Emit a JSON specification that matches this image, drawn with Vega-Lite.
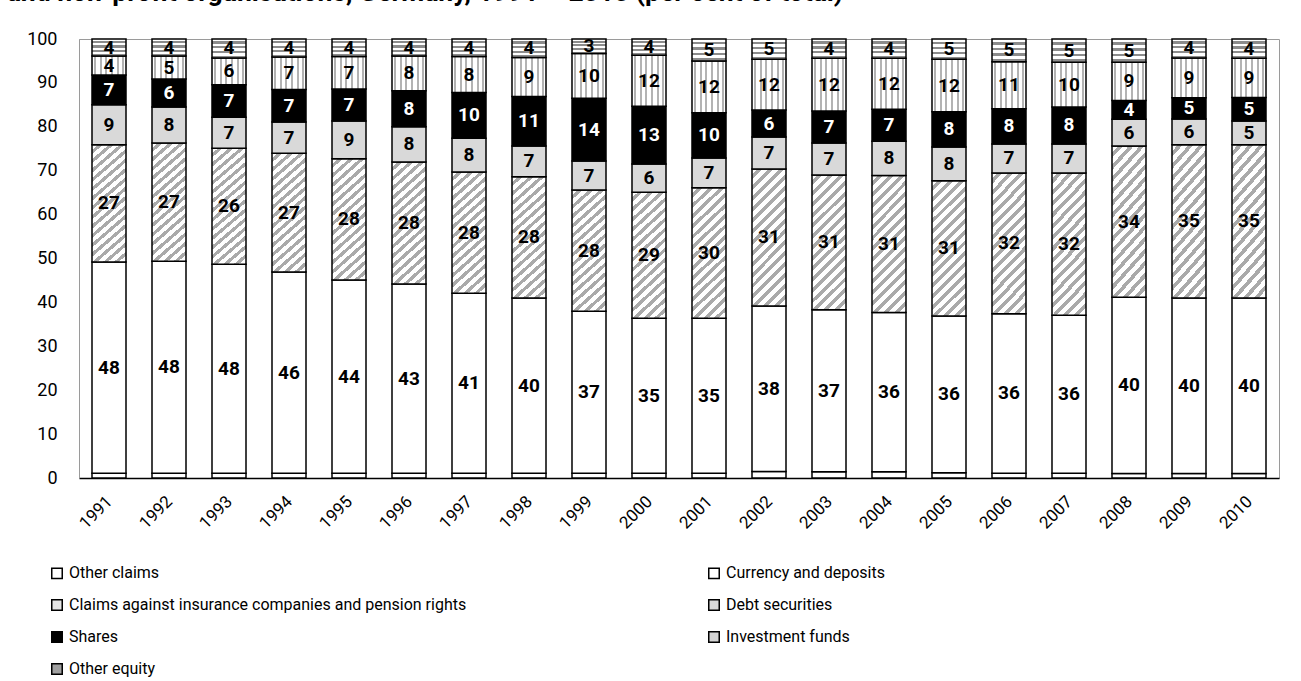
{
  "$schema": "https://vega.github.io/schema/vega-lite/v6.json",
  "width": 1200,
  "height": 439,
  "autosize": "none",
  "padding": {"left": 79, "top": 39, "right": 22, "bottom": 203},
  "background": "white",
  "title": {"text": "and non-profit organisations, Germany, 1991 – 2010 (per cent of total)", "anchor": "start", "dx": -20, "offset": 24, "fontSize": 26.5, "font": "Roboto", "fontWeight": "bold", "color": "black"},
  "data": {"values": [
    {"year": "1991", "Other claims": 1.1, "Currency and deposits": 48.1, "Claims against insurance companies and pension rights": 26.7, "Debt securities": 9.1, "Shares": 6.8, "Investment funds": 4.3, "Other equity": 3.9},
    {"year": "1992", "Other claims": 1.1, "Currency and deposits": 48.3, "Claims against insurance companies and pension rights": 26.9, "Debt securities": 8.2, "Shares": 6.4, "Investment funds": 5.2, "Other equity": 3.9},
    {"year": "1993", "Other claims": 1.1, "Currency and deposits": 47.6, "Claims against insurance companies and pension rights": 26.4, "Debt securities": 7.1, "Shares": 7.4, "Investment funds": 6.1, "Other equity": 4.3},
    {"year": "1994", "Other claims": 1.1, "Currency and deposits": 45.8, "Claims against insurance companies and pension rights": 27.1, "Debt securities": 7.1, "Shares": 7.4, "Investment funds": 7.4, "Other equity": 4.1},
    {"year": "1995", "Other claims": 1.1, "Currency and deposits": 44.0, "Claims against insurance companies and pension rights": 27.6, "Debt securities": 8.6, "Shares": 7.3, "Investment funds": 7.4, "Other equity": 4.0},
    {"year": "1996", "Other claims": 1.1, "Currency and deposits": 43.1, "Claims against insurance companies and pension rights": 27.8, "Debt securities": 8.0, "Shares": 8.2, "Investment funds": 7.9, "Other equity": 3.9},
    {"year": "1997", "Other claims": 1.1, "Currency and deposits": 41.0, "Claims against insurance companies and pension rights": 27.6, "Debt securities": 7.7, "Shares": 10.4, "Investment funds": 8.2, "Other equity": 4.0},
    {"year": "1998", "Other claims": 1.1, "Currency and deposits": 39.9, "Claims against insurance companies and pension rights": 27.6, "Debt securities": 7.0, "Shares": 11.3, "Investment funds": 8.9, "Other equity": 4.2},
    {"year": "1999", "Other claims": 1.1, "Currency and deposits": 36.9, "Claims against insurance companies and pension rights": 27.6, "Debt securities": 6.6, "Shares": 14.3, "Investment funds": 10.2, "Other equity": 3.3},
    {"year": "2000", "Other claims": 1.1, "Currency and deposits": 35.3, "Claims against insurance companies and pension rights": 28.7, "Debt securities": 6.4, "Shares": 13.2, "Investment funds": 11.6, "Other equity": 3.7},
    {"year": "2001", "Other claims": 1.1, "Currency and deposits": 35.3, "Claims against insurance companies and pension rights": 29.7, "Debt securities": 6.8, "Shares": 10.3, "Investment funds": 11.8, "Other equity": 5.0},
    {"year": "2002", "Other claims": 1.5, "Currency and deposits": 37.7, "Claims against insurance companies and pension rights": 31.2, "Debt securities": 7.3, "Shares": 6.1, "Investment funds": 11.6, "Other equity": 4.6},
    {"year": "2003", "Other claims": 1.4, "Currency and deposits": 36.9, "Claims against insurance companies and pension rights": 30.7, "Debt securities": 7.3, "Shares": 7.3, "Investment funds": 12.0, "Other equity": 4.4},
    {"year": "2004", "Other claims": 1.4, "Currency and deposits": 36.3, "Claims against insurance companies and pension rights": 31.2, "Debt securities": 7.8, "Shares": 7.3, "Investment funds": 11.6, "Other equity": 4.4},
    {"year": "2005", "Other claims": 1.2, "Currency and deposits": 35.7, "Claims against insurance companies and pension rights": 30.8, "Debt securities": 7.7, "Shares": 8.0, "Investment funds": 12.0, "Other equity": 4.6},
    {"year": "2006", "Other claims": 1.1, "Currency and deposits": 36.3, "Claims against insurance companies and pension rights": 32.1, "Debt securities": 6.6, "Shares": 8.0, "Investment funds": 10.7, "Other equity": 5.2},
    {"year": "2007", "Other claims": 1.1, "Currency and deposits": 36.0, "Claims against insurance companies and pension rights": 32.4, "Debt securities": 6.6, "Shares": 8.4, "Investment funds": 10.2, "Other equity": 5.3},
    {"year": "2008", "Other claims": 1.0, "Currency and deposits": 40.2, "Claims against insurance companies and pension rights": 34.4, "Debt securities": 6.1, "Shares": 4.3, "Investment funds": 8.7, "Other equity": 5.3},
    {"year": "2009", "Other claims": 1.0, "Currency and deposits": 40.0, "Claims against insurance companies and pension rights": 34.9, "Debt securities": 5.9, "Shares": 4.8, "Investment funds": 9.1, "Other equity": 4.3},
    {"year": "2010", "Other claims": 1.0, "Currency and deposits": 40.0, "Claims against insurance companies and pension rights": 34.9, "Debt securities": 5.4, "Shares": 5.4, "Investment funds": 8.9, "Other equity": 4.4}
  ]},
  "transform": [
    {"fold": ["Other claims", "Currency and deposits", "Claims against insurance companies and pension rights", "Debt securities", "Shares", "Investment funds", "Other equity"], "as": ["c", "v"]},
    {"calculate": "indexof(['Other claims', 'Currency and deposits', 'Claims against insurance companies and pension rights', 'Debt securities', 'Shares', 'Investment funds', 'Other equity'], datum.c)", "as": "k"},
    {"stack": "v", "groupby": ["year"], "sort": [{"field": "k", "order": "ascending"}], "as": ["v0", "v1"]},
    {"calculate": "(datum.v0 + datum.v1) / 2", "as": "vm"}
  ],
  "encoding": {
    "x": {"field": "year", "type": "ordinal", "scale": {"paddingInner": 0.4333, "paddingOuter": 0.2167},
      "axis": {"title": null, "labelAngle": -45, "labelFontSize": 17, "labelFont": "Roboto", "labelColor": "black", "ticks": false, "domainColor": "black", "domainWidth": 1.5, "labelPadding": 15, "labelOffset": -5}}
  },
  "layer": [
    {
      "mark": {"type": "bar", "stroke": "black", "strokeWidth": 1.5},
      "encoding": {
        "y": {"field": "v0", "type": "quantitative", "scale": {"domain": [0, 100]},
          "axis": {"title": null, "values": [0, 10, 20, 30, 40, 50, 60, 70, 80, 90, 100], "ticks": false, "grid": false, "labelPadding": 22, "labelFontSize": 18, "labelFont": "Roboto", "labelColor": "black", "domainColor": "#9a9a9a"}},
        "y2": {"field": "v1"},
        "fill": {
          "field": "c", "type": "nominal",
          "scale": {"domain": ["Other claims", "Currency and deposits", "Claims against insurance companies and pension rights", "Debt securities", "Shares", "Investment funds", "Other equity"],
                    "range": ["#ffffff", "#ffffff", "#e6e6e6", "#d9d9d9", "#000000", "#d4d4d4", "#a0a0a0"]},
          "legend": {"orient": "none", "legendX": -30, "legendY": 526, "direction": "horizontal", "columns": 2, "title": null, "symbolType": "square", "symbolSize": 110, "symbolStrokeColor": "black", "symbolStrokeWidth": 1.5, "labelFontSize": 16, "labelFont": "Roboto", "labelColor": "black", "labelLimit": 700, "columnPadding": 238, "rowPadding": 14, "labelOffset": 4},
          "condition": [
            {"test": "datum.c === 'Claims against insurance companies and pension rights'", "value": {"gradient": "linear", "x1": 0, "y1": 0, "x2": 0.3, "y2": 1.2, "stops": [
              {"offset": 0, "color": "#ffffff"}, {"offset": 0.034, "color": "#ffffff"}, {"offset": 0.034, "color": "#aaaaaa"}, {"offset": 0.0625, "color": "#aaaaaa"},
              {"offset": 0.0625, "color": "#ffffff"}, {"offset": 0.0965, "color": "#ffffff"}, {"offset": 0.0965, "color": "#aaaaaa"}, {"offset": 0.125, "color": "#aaaaaa"},
              {"offset": 0.125, "color": "#ffffff"}, {"offset": 0.159, "color": "#ffffff"}, {"offset": 0.159, "color": "#aaaaaa"}, {"offset": 0.1875, "color": "#aaaaaa"},
              {"offset": 0.1875, "color": "#ffffff"}, {"offset": 0.2215, "color": "#ffffff"}, {"offset": 0.2215, "color": "#aaaaaa"}, {"offset": 0.25, "color": "#aaaaaa"},
              {"offset": 0.25, "color": "#ffffff"}, {"offset": 0.284, "color": "#ffffff"}, {"offset": 0.284, "color": "#aaaaaa"}, {"offset": 0.3125, "color": "#aaaaaa"},
              {"offset": 0.3125, "color": "#ffffff"}, {"offset": 0.3465, "color": "#ffffff"}, {"offset": 0.3465, "color": "#aaaaaa"}, {"offset": 0.375, "color": "#aaaaaa"},
              {"offset": 0.375, "color": "#ffffff"}, {"offset": 0.409, "color": "#ffffff"}, {"offset": 0.409, "color": "#aaaaaa"}, {"offset": 0.4375, "color": "#aaaaaa"},
              {"offset": 0.4375, "color": "#ffffff"}, {"offset": 0.4715, "color": "#ffffff"}, {"offset": 0.4715, "color": "#aaaaaa"}, {"offset": 0.5, "color": "#aaaaaa"},
              {"offset": 0.5, "color": "#ffffff"}, {"offset": 0.534, "color": "#ffffff"}, {"offset": 0.534, "color": "#aaaaaa"}, {"offset": 0.5625, "color": "#aaaaaa"},
              {"offset": 0.5625, "color": "#ffffff"}, {"offset": 0.5965, "color": "#ffffff"}, {"offset": 0.5965, "color": "#aaaaaa"}, {"offset": 0.625, "color": "#aaaaaa"},
              {"offset": 0.625, "color": "#ffffff"}, {"offset": 0.659, "color": "#ffffff"}, {"offset": 0.659, "color": "#aaaaaa"}, {"offset": 0.6875, "color": "#aaaaaa"},
              {"offset": 0.6875, "color": "#ffffff"}, {"offset": 0.7215, "color": "#ffffff"}, {"offset": 0.7215, "color": "#aaaaaa"}, {"offset": 0.75, "color": "#aaaaaa"},
              {"offset": 0.75, "color": "#ffffff"}, {"offset": 0.784, "color": "#ffffff"}, {"offset": 0.784, "color": "#aaaaaa"}, {"offset": 0.8125, "color": "#aaaaaa"},
              {"offset": 0.8125, "color": "#ffffff"}, {"offset": 0.8465, "color": "#ffffff"}, {"offset": 0.8465, "color": "#aaaaaa"}, {"offset": 0.875, "color": "#aaaaaa"},
              {"offset": 0.875, "color": "#ffffff"}, {"offset": 0.909, "color": "#ffffff"}, {"offset": 0.909, "color": "#aaaaaa"}, {"offset": 0.9375, "color": "#aaaaaa"},
              {"offset": 0.9375, "color": "#ffffff"}, {"offset": 0.9715, "color": "#ffffff"}, {"offset": 0.9715, "color": "#aaaaaa"}, {"offset": 1, "color": "#aaaaaa"}
            ]}},
            {"test": "datum.c === 'Investment funds'", "value": {"gradient": "linear", "x1": 0, "y1": 0, "x2": 1, "y2": 0, "stops": [
              {"offset": 0, "color": "#ffffff"}, {"offset": 0.06, "color": "#ffffff"}, {"offset": 0.06, "color": "#b3b3b3"}, {"offset": 0.12, "color": "#b3b3b3"},
              {"offset": 0.12, "color": "#ffffff"}, {"offset": 0.227, "color": "#ffffff"}, {"offset": 0.227, "color": "#b3b3b3"}, {"offset": 0.287, "color": "#b3b3b3"},
              {"offset": 0.287, "color": "#ffffff"}, {"offset": 0.393, "color": "#ffffff"}, {"offset": 0.393, "color": "#b3b3b3"}, {"offset": 0.453, "color": "#b3b3b3"},
              {"offset": 0.453, "color": "#ffffff"}, {"offset": 0.56, "color": "#ffffff"}, {"offset": 0.56, "color": "#b3b3b3"}, {"offset": 0.62, "color": "#b3b3b3"},
              {"offset": 0.62, "color": "#ffffff"}, {"offset": 0.727, "color": "#ffffff"}, {"offset": 0.727, "color": "#b3b3b3"}, {"offset": 0.787, "color": "#b3b3b3"},
              {"offset": 0.787, "color": "#ffffff"}, {"offset": 0.893, "color": "#ffffff"}, {"offset": 0.893, "color": "#b3b3b3"}, {"offset": 0.953, "color": "#b3b3b3"},
              {"offset": 0.953, "color": "#ffffff"}, {"offset": 1, "color": "#ffffff"}
            ]}},
            {"test": "datum.c === 'Other equity'", "value": {"gradient": "linear", "x1": 0, "y1": 0, "x2": 0, "y2": 1, "stops": [
              {"offset": 0, "color": "#ffffff"}, {"offset": 0.125, "color": "#ffffff"}, {"offset": 0.125, "color": "#8c8c8c"}, {"offset": 0.25, "color": "#8c8c8c"},
              {"offset": 0.25, "color": "#ffffff"}, {"offset": 0.375, "color": "#ffffff"}, {"offset": 0.375, "color": "#8c8c8c"}, {"offset": 0.5, "color": "#8c8c8c"},
              {"offset": 0.5, "color": "#ffffff"}, {"offset": 0.625, "color": "#ffffff"}, {"offset": 0.625, "color": "#8c8c8c"}, {"offset": 0.75, "color": "#8c8c8c"},
              {"offset": 0.75, "color": "#ffffff"}, {"offset": 0.875, "color": "#ffffff"}, {"offset": 0.875, "color": "#8c8c8c"}, {"offset": 1, "color": "#8c8c8c"}
            ]}}
          ]
        }
      }
    },
    {
      "transform": [{"filter": "datum.c !== 'Other claims'"}],
      "mark": {"type": "text", "font": "Roboto", "fontWeight": "bold", "fontSize": 19, "baseline": "middle"},
      "encoding": {
        "y": {"field": "vm", "type": "quantitative"},
        "text": {"field": "v", "type": "quantitative", "format": ".0f"},
        "color": {"condition": {"test": "datum.c === 'Shares'", "value": "white"}, "value": "black"}
      }
    }
  ],
  "config": {"view": {"stroke": "#9a9a9a", "strokeWidth": 1}, "font": "Roboto"}
}
